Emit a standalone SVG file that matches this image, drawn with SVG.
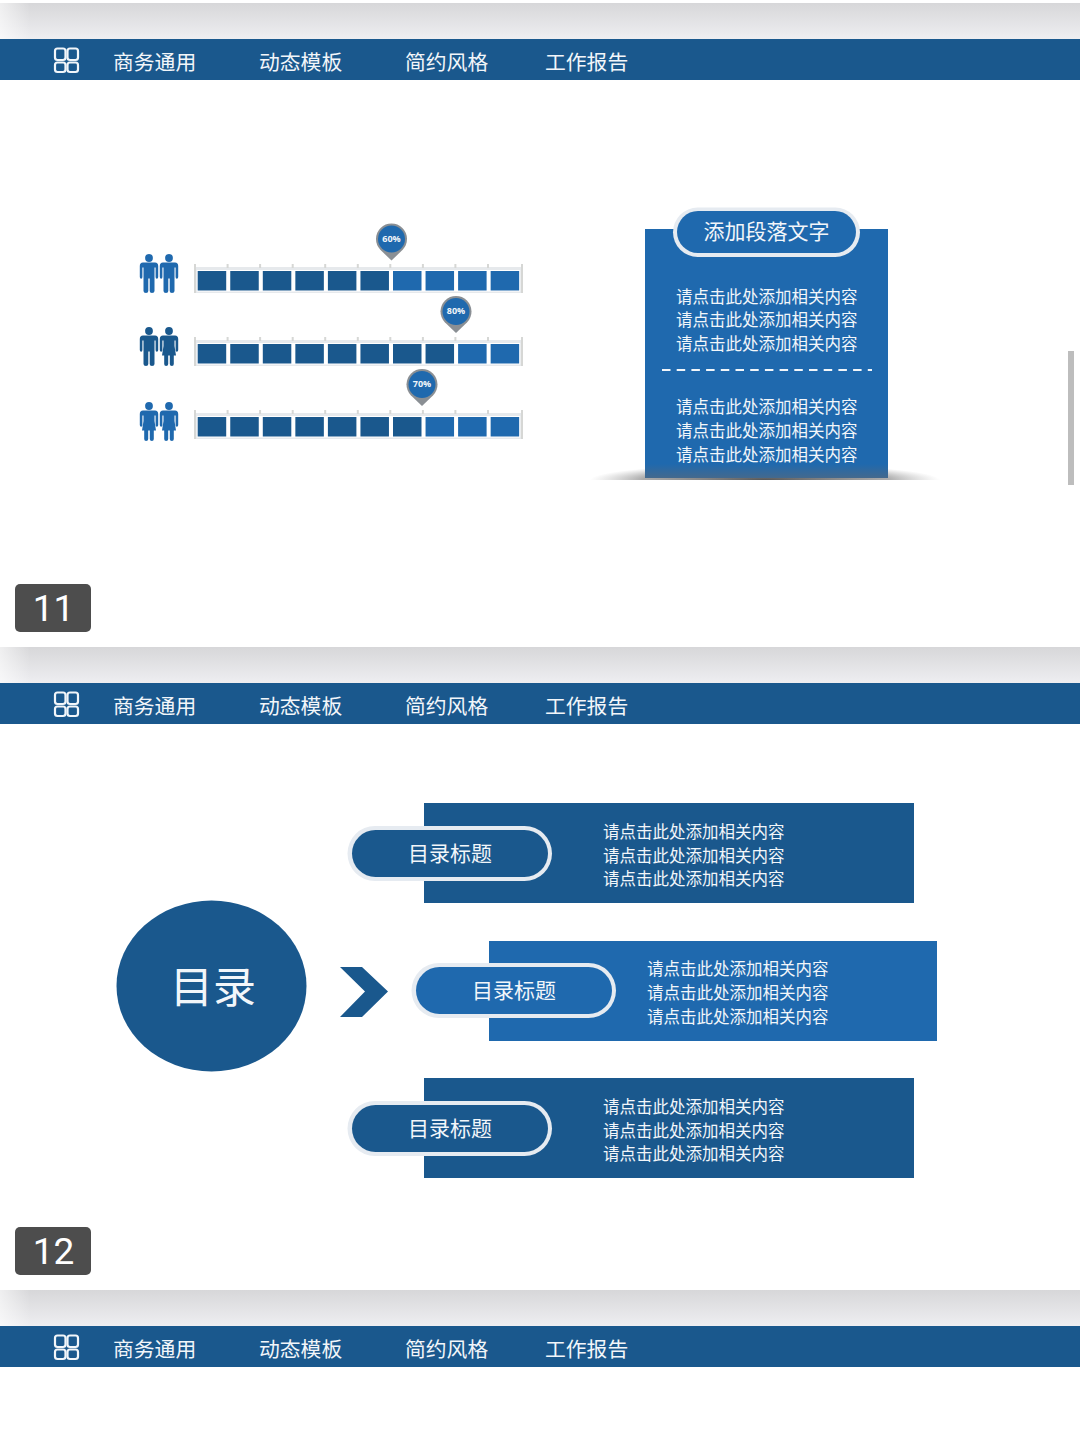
<svg xmlns="http://www.w3.org/2000/svg" width="1080" height="1440" viewBox="0 0 1080 1440">
<style>
text{font-family:"Noto Sans CJK SC","Noto Sans",sans-serif;fill:#f2f6fa}
.nav{font-size:20.800px}
.body{font-size:16.500px}
.title{font-size:21px;text-anchor:middle}
.pct{font-family:"Open Sans","Noto Sans",sans-serif;font-size:9px;font-weight:700;text-anchor:middle}
.num{font-family:Roboto,"Noto Sans",sans-serif;font-size:37px;text-anchor:middle;fill:#fff}
.dark{fill:#1a588d}
.light{fill:#1f69ae}
.halo{fill:#e6ebf1}
</style>
<defs>
<linearGradient id="band" x1="0" y1="0" x2="0" y2="1"><stop offset="0" stop-color="#d7d7d9"/><stop offset="1" stop-color="#eeeef1"/></linearGradient>
<linearGradient id="fade" x1="0" y1="0" x2="1" y2="0"><stop offset="0" stop-color="#fff" stop-opacity=".6"/><stop offset="1" stop-color="#fff" stop-opacity="0"/></linearGradient>
<radialGradient id="shadow"><stop offset="0" stop-color="#555"/><stop offset=".7" stop-color="#888" stop-opacity=".7"/><stop offset="1" stop-color="#aaa" stop-opacity="0"/></radialGradient>
<linearGradient id="foot" x1="0" y1="0" x2="0" y2="1"><stop offset="0" stop-color="#44698d" stop-opacity="0"/><stop offset="1" stop-color="#44698d"/></linearGradient>
<clipPath id="shadowClip"><rect x="580" y="455" width="370" height="25"/></clipPath>
<g id="header">
<rect x="0" y="0" width="1080" height="36" fill="url(#band)"/>
<rect x="0" y="0" width="30" height="36" fill="url(#fade)"/>
<rect x="0" y="36" width="1080" height="41" class="dark"/>
<g fill="none" stroke="#f2f6fa" stroke-width="2.200">
<rect x="55" y="45.500" width="10.500" height="11.500" rx="2.500"/><rect x="67.500" y="45.500" width="10.500" height="11.500" rx="2.500"/>
<rect x="55" y="59.500" width="10.500" height="9.500" rx="2.500"/><rect x="67.500" y="59.500" width="10.500" height="9.500" rx="2.500"/>
</g>
<text class="nav" x="113" y="66.500">商务通用</text>
<text class="nav" x="259" y="66.500">动态模板</text>
<text class="nav" x="405" y="66.500">简约风格</text>
<text class="nav" x="545" y="66.500">工作报告</text>
</g>
<g id="track">
<rect x="194" y="3" width="328.500" height="26" fill="#e6e9ec"/>
<g stroke="#d6d7d5" stroke-width="2">
<path d="M195 0V29M227.600 0V4M260.100 0V4M292.700 0V4M325.200 0V4M357.800 0V4M390.300 0V4M422.900 0V4M455.400 0V4M488 0V4M522 0V29"/>
</g>
<rect x="196.700" y="6" width="323.500" height="21.500" fill="#fff"/>
</g>
<rect id="cd" width="28.500" height="19.500" class="dark"/>
<rect id="cl" width="28.500" height="19.500" class="light"/>
<g id="man">
<circle cx="0" cy="4" r="3.900"/>
<path d="M-6 8.500H6Q9.200 8.500 9.200 12V23Q9.200 24.800 7.800 24.800Q6.600 24.800 6.600 23V13.500H5.500V37Q5.500 39 3 39Q.7 39 .7 37V24.500H-.7V37Q-.7 39-3 39Q-5.500 39-5.500 37V13.500H-6.600V23Q-6.600 24.800-7.800 24.800Q-9.200 24.800-9.200 23V12Q-9.200 8.500-6 8.500Z"/>
</g>
<g id="woman">
<circle cx="0" cy="4" r="3.900"/>
<path d="M-6 8.500H6Q9.200 8.500 9.200 12V23Q9.200 24.800 7.800 24.800Q6.600 24.800 6.600 23V13.500H5.500L5.500 19L7 28.500H4.800V37Q4.800 39 2.900 39Q.8 39 .8 37V28.500H-.8V37Q-.8 39-2.900 39Q-4.800 39-4.800 37V28.500H-7L-5.500 19V13.500H-6.600V23Q-6.600 24.800-7.800 24.800Q-9.200 24.800-9.200 23V12Q-9.200 8.500-6 8.500Z"/>
</g>
<g id="pin">
<path d="M-11.200 10.800A15.500 15.500 0 1 1 11.200 10.800L0 21.500Z" fill="#8a8f94"/>
<circle cx="0" cy="0" r="13.500" class="light"/>
</g>
</defs>

<rect width="1080" height="1440" fill="#fff"/>

<g id="slide-headers">
<use href="#header" x="0" y="3"/>
<use href="#header" x="0" y="647"/>
<use href="#header" x="0" y="1290"/>
</g>

<g id="chart-row-1">
<g class="light"><use href="#man" x="149" y="254"/><use href="#man" x="169" y="254"/></g>
<use href="#track" x="0" y="264"/>
<use href="#cd" x="197.700" y="271"/><use href="#cd" x="230.250" y="271"/><use href="#cd" x="262.800" y="271"/><use href="#cd" x="295.350" y="271"/><use href="#cd" x="327.900" y="271"/><use href="#cd" x="360.450" y="271"/>
<use href="#cl" x="393" y="271"/><use href="#cl" x="425.550" y="271"/><use href="#cl" x="458.100" y="271"/><use href="#cl" x="490.650" y="271"/>
<use href="#pin" x="391.500" y="239"/>
<text class="pct" x="391.500" y="242">60%</text>
</g>

<g id="chart-row-2">
<g class="dark"><use href="#man" x="149" y="327"/><use href="#woman" x="169" y="327"/></g>
<use href="#track" x="0" y="337"/>
<use href="#cd" x="197.700" y="344"/><use href="#cd" x="230.250" y="344"/><use href="#cd" x="262.800" y="344"/><use href="#cd" x="295.350" y="344"/><use href="#cd" x="327.900" y="344"/><use href="#cd" x="360.450" y="344"/><use href="#cd" x="393" y="344"/><use href="#cd" x="425.550" y="344"/>
<use href="#cl" x="458.100" y="344"/><use href="#cl" x="490.650" y="344"/>
<use href="#pin" x="456" y="311.500"/>
<text class="pct" x="456" y="314">80%</text>
</g>

<g id="chart-row-3">
<g class="light"><use href="#woman" x="149" y="402"/><use href="#woman" x="169" y="402"/></g>
<use href="#track" x="0" y="410"/>
<use href="#cd" x="197.700" y="417"/><use href="#cd" x="230.250" y="417"/><use href="#cd" x="262.800" y="417"/><use href="#cd" x="295.350" y="417"/><use href="#cd" x="327.900" y="417"/><use href="#cd" x="360.450" y="417"/><use href="#cd" x="393" y="417"/>
<use href="#cl" x="425.550" y="417"/><use href="#cl" x="458.100" y="417"/><use href="#cl" x="490.650" y="417"/>
<use href="#pin" x="422" y="384.500"/>
<text class="pct" x="422" y="387">70%</text>
</g>

<g id="paragraph-panel">
<ellipse cx="765" cy="480" rx="175" ry="16" fill="url(#shadow)" clip-path="url(#shadowClip)"/>
<rect x="645" y="229" width="243" height="249" class="light"/>
<rect x="645" y="464" width="243" height="14" fill="url(#foot)"/>
<rect x="673" y="207.500" width="187" height="49.500" rx="24.700" class="halo"/>
<rect x="677" y="211" width="179" height="42" rx="21" class="light"/>
<text class="title" x="766.500" y="239">添加段落文字</text>
<text class="body" x="676" y="302.500">请点击此处添加相关内容</text>
<text class="body" x="676" y="325.500">请点击此处添加相关内容</text>
<text class="body" x="676" y="349.500">请点击此处添加相关内容</text>
<line x1="662" y1="370" x2="872" y2="370" stroke="#f2f6fa" stroke-width="2" stroke-dasharray="8.500 6.200"/>
<text class="body" x="676" y="412.500">请点击此处添加相关内容</text>
<text class="body" x="676" y="436.500">请点击此处添加相关内容</text>
<text class="body" x="676" y="460.500">请点击此处添加相关内容</text>
</g>

<g id="badge-11">
<rect x="15" y="584" width="76" height="48" rx="5" fill="#4d4d4d"/>
<text class="num" x="53.500" y="621">11</text>
</g>

<rect id="scrollbar" x="1068" y="351" width="6" height="134" fill="#bdbdbd"/>

<g id="toc-circle">
<ellipse cx="211.500" cy="986" rx="95" ry="85.500" class="dark"/>
<text x="213" y="1003" text-anchor="middle" font-size="43">目录</text>
</g>

<polygon id="toc-chevron" points="340,967 362,967 388,991.500 362,1017 340,1017 365,991.500" class="dark"/>

<g id="toc-item-1">
<rect x="424" y="803" width="490" height="100" class="dark"/>
<rect x="347.500" y="826" width="204.500" height="55" rx="27.500" class="halo"/>
<rect x="352" y="830" width="196" height="47" rx="23.500" class="dark"/>
<text class="title" x="450" y="861">目录标题</text>
<text class="body" x="603" y="837.500">请点击此处添加相关内容</text>
<text class="body" x="603" y="861.500">请点击此处添加相关内容</text>
<text class="body" x="603" y="884.500">请点击此处添加相关内容</text>
</g>

<g id="toc-item-2">
<rect x="489" y="941" width="448" height="100" class="light"/>
<rect x="411.500" y="963" width="204.500" height="55" rx="27.500" class="halo"/>
<rect x="416" y="967" width="196" height="47" rx="23.500" class="light"/>
<text class="title" x="514" y="998">目录标题</text>
<text class="body" x="647" y="974.500">请点击此处添加相关内容</text>
<text class="body" x="647" y="998.500">请点击此处添加相关内容</text>
<text class="body" x="647" y="1022.500">请点击此处添加相关内容</text>
</g>

<g id="toc-item-3">
<rect x="424" y="1078" width="490" height="100" class="dark"/>
<rect x="347.500" y="1101" width="204.500" height="55" rx="27.500" class="halo"/>
<rect x="352" y="1105" width="196" height="47" rx="23.500" class="dark"/>
<text class="title" x="450" y="1136">目录标题</text>
<text class="body" x="603" y="1112.500">请点击此处添加相关内容</text>
<text class="body" x="603" y="1136.500">请点击此处添加相关内容</text>
<text class="body" x="603" y="1159.500">请点击此处添加相关内容</text>
</g>

<g id="badge-12">
<rect x="15" y="1227" width="76" height="48" rx="5" fill="#4d4d4d"/>
<text class="num" x="53.500" y="1264">12</text>
</g>
</svg>
